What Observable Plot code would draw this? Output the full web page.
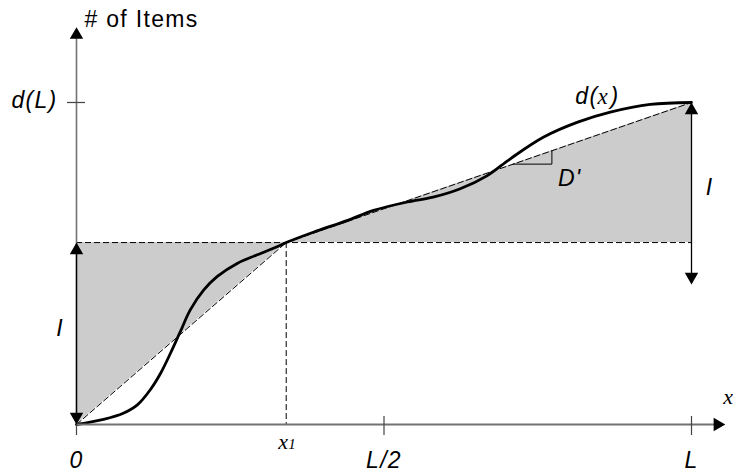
<!DOCTYPE html>
<html>
<head>
<meta charset="utf-8">
<script src="https://cdn.jsdelivr.net/npm/d3@7"></script>
<script src="https://cdn.jsdelivr.net/npm/@observablehq/plot@0.6"></script>
<style>
  html, body { margin: 0; padding: 0; background: #fff; }
  #chart svg text { letter-spacing: 1.3px; }
</style>
</head>
<body>
<div id="chart"></div>
<script>
// Cumulative number of items d(x) along a route of length L.
// Position x is in units of L, counts in units of d(L).
const curveX = [0, 0.044, 0.076, 0.099, 0.120, 0.137, 0.153, 0.169, 0.185, 0.207, 0.229, 0.262,
                0.294, 0.327, 0.341, 0.385, 0.441, 0.483, 0.538, 0.580, 0.624, 0.668, 0.706,
                0.759, 0.815, 0.868, 0.933, 1];
const curveY = [0, 0.016, 0.035, 0.061, 0.108, 0.160, 0.222, 0.289, 0.356, 0.418, 0.460, 0.501,
                0.527, 0.553, 0.565, 0.597, 0.634, 0.665, 0.691, 0.706, 0.732, 0.773, 0.826,
                0.892, 0.939, 0.970, 0.994, 1];

const L = 1;          // route length
const dL = 1;         // d(L), total items
const levelI = 0.565; // I
const x1 = 0.341;     // where d(x) reaches I

// axis extents (arrow tips)
const axisXEnd = 1.055;
const axisYEnd = 1.234;

// tick marks and their labels
const xTickValues = [0, 0.5, 1];
const xTickLabels = ["0", "L/2", "L"];
const yTickValues = [dL];
const yTickLabels = ["d(L)"];
const yTitle = "# of Items";
const xTitle = "x";

// slope marker on the upper chord
const slopeFrom = 0.71;
const slopeTo = 0.773;

const curve = curveX.map((x, i) => ({x, y: curveY[i]}));
const chord = x => x <= x1 ? levelI * x / x1 : levelI + (dL - levelI) * (x - x1) / (L - x1);

const italicSans = {fontFamily: "Liberation Sans", fontStyle: "italic", fontSize: 23};
const italicSerif = {fontFamily: "Liberation Serif", fontStyle: "italic", fontSize: 22};
const dash = {stroke: "#000", strokeWidth: 1, strokeDasharray: "6,3"};
const axisGray = "#727272";
const head = d3.symbolTriangle;

const plot = Plot.plot({
  width: 733,
  height: 475,
  margin: 0,
  x: {domain: [0, L], range: [76, 691], axis: null},
  y: {domain: [0, dL], range: [424, 102], axis: null},
  marks: [
    // shaded regions between the chords and level I
    Plot.areaY([{x: 0, lo: 0, hi: levelI}, {x: x1, lo: levelI, hi: levelI}],
      {x: "x", y1: "lo", y2: "hi", fill: "#cccccc"}),
    Plot.areaY([{x: x1, lo: levelI, hi: levelI}, {x: L, lo: levelI, hi: dL}],
      {x: "x", y1: "lo", y2: "hi", fill: "#cccccc"}),

    // dashed chords and guides
    Plot.line([{x: 0, y: 0}, {x: x1, y: levelI}, {x: L, y: dL}], {x: "x", y: "y", ...dash}),
    Plot.ruleY([levelI], {x1: 0, x2: L, ...dash}),
    Plot.ruleX([x1], {y1: levelI, y2: 0, ...dash}),

    // slope marker D'
    Plot.line([{x: slopeFrom, y: chord(slopeFrom)}, {x: slopeTo, y: chord(slopeFrom)}, {x: slopeTo, y: chord(slopeTo)}],
      {x: "x", y: "y", stroke: "#000", strokeWidth: 1}),

    // d(x)
    Plot.line(curve, {x: "x", y: "y", curve: "catmull-rom", stroke: "#000", strokeWidth: 2.8}),

    // axes
    Plot.ruleX([0], {y1: axisYEnd, y2: 0, stroke: axisGray, strokeWidth: 1.6, insetTop: 10}),
    Plot.ruleY([0], {x1: 0, x2: axisXEnd, stroke: axisGray, strokeWidth: 2, insetRight: 10}),
    Plot.ruleX(xTickValues, {y1: 0, y2: 0, insetTop: -8, insetBottom: -11, stroke: "#444", strokeWidth: 1.2}),
    Plot.ruleY(yTickValues, {x1: 0, x2: 0, insetLeft: -9, insetRight: -9, stroke: "#444", strokeWidth: 1.2}),

    // I arrows
    Plot.ruleX([0], {y1: levelI, y2: 0, stroke: "#000", strokeWidth: 1.3, insetTop: 8, insetBottom: 8}),
    Plot.ruleX([L], {y1: dL, y2: dL - levelI, stroke: "#000", strokeWidth: 1.3, insetTop: 8, insetBottom: 8}),

    // arrowheads
    Plot.dot([{x: 0, y: axisYEnd}, {x: 0, y: levelI}, {x: L, y: dL}],
      {x: "x", y: "y", symbol: head, r: 5, fill: "#000", stroke: "none", dy: 7.8}),
    Plot.dot([{x: 0, y: 0}, {x: L, y: dL - levelI}],
      {x: "x", y: "y", symbol: head, r: 5, fill: "#000", stroke: "none", rotate: 180, dy: -7.8}),
    Plot.dot([{x: axisXEnd, y: 0}],
      {x: "x", y: "y", symbol: head, r: 5, fill: "#000", stroke: "none", rotate: 90, dx: -7.8}),

    // axis titles
    Plot.text([yTitle], {x: () => 0, y: () => axisYEnd, text: d => d, textAnchor: "start", lineAnchor: "bottom",
      dx: 8, fontFamily: "Liberation Sans", fontSize: 23}),
    Plot.text([xTitle], {x: () => axisXEnd, y: () => 0, text: d => d, textAnchor: "start", lineAnchor: "bottom",
      dx: -2, dy: -21, ...italicSerif}),

    // tick labels
    Plot.text(xTickValues, {x: d => d, y: () => 0, text: (d, i) => xTickLabels[i], textAnchor: "middle",
      lineAnchor: "bottom", dy: 43, ...italicSans}),
    Plot.text(yTickValues, {x: () => 0, y: d => d, text: (d, i) => yTickLabels[i], textAnchor: "end",
      lineAnchor: "middle", dx: -19, dy: -2, ...italicSans}),
    Plot.text([x1], {x: d => d, y: () => 0, text: () => "x", textAnchor: "start", lineAnchor: "bottom",
      dx: -8, dy: 24, ...italicSerif}),
    Plot.text([x1], {x: d => d, y: () => 0, text: () => "1", textAnchor: "start", lineAnchor: "bottom",
      dx: 2, dy: 24, ...italicSerif, fontSize: 15}),

    // I labels
    Plot.text([levelI / 2], {x: () => 0, y: d => d, text: () => "I", textAnchor: "middle", lineAnchor: "bottom",
      dx: -16.5, dy: 2, ...italicSans}),
    Plot.text([dL - levelI / 2], {x: () => L, y: d => d, text: () => "I", textAnchor: "middle", lineAnchor: "bottom",
      dx: 18, dy: 2, ...italicSans}),

    // D' next to the slope marker
    Plot.text([slopeTo], {x: d => d, y: () => chord(slopeFrom), text: () => "D'", textAnchor: "start",
      lineAnchor: "bottom", dx: 6, dy: 21.5, ...italicSans}),

    // d(x) curve label
    Plot.text([0.847], {x: d => d, y: () => dL, text: () => "d(", textAnchor: "end", lineAnchor: "bottom",
      dx: 1, dy: 1, ...italicSans}),
    Plot.text([0.847], {x: d => d, y: () => dL, text: () => "x", textAnchor: "start", lineAnchor: "bottom",
      dx: 0, dy: 1, ...italicSerif, fontSize: 23}),
    Plot.text([0.847], {x: d => d, y: () => dL, text: () => ")", textAnchor: "start", lineAnchor: "bottom",
      dx: 13, dy: 1, ...italicSans})
  ]
});

document.getElementById("chart").appendChild(plot);
</script>
</body>
</html>
